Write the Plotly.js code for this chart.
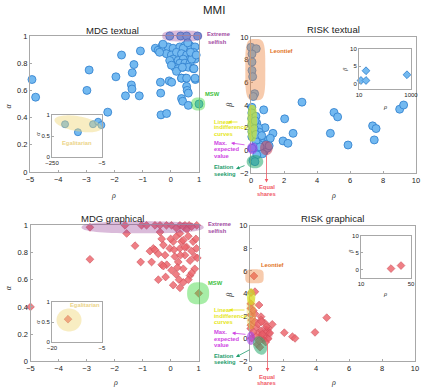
<!DOCTYPE html>
<html><head><meta charset="utf-8">
<script src="https://cdn.plot.ly/plotly-3.0.1.min.js"></script>
<style>html,body{margin:0;padding:0;background:#fff;}#chart{width:424px;height:387px;}</style>
</head><body><div id="chart"></div>
<script>
// ---------------- DATA ----------------
const mdgTextRho = [-4.93,-4.80,-2.90,-2.98,-2.24,-1.95,-1.75,-1.08,-1.31,-1.37,-1.40,-1.38,-1.61,-1.12,-0.37,-0.36,-0.35,-0.15,-0.06,0.03,0.38,0.38,0.42,0.56,0.58,0.62,0.62,0.87,0.52,1.00,
  -0.04,0.35,0.56,0.95,
  -0.55,-0.45,-0.30,-0.25,-0.10,0.08,0.32,0.50,0.68,0.86,0.44,0.80,-0.16,0.02,0.20,0.38,0.56,0.68,0.08,-0.04,0.26,0.44,0.86,0.32,0.50,0.68,0.14,0.02,0.44,0.62,0.80,0.26,0.38,0.56,0.86,-0.28,0.20,0.41,0.74,0.82,-0.40,0.60,0.70,0.90];
const mdgTextAlpha = [0.68,0.55,0.75,0.60,0.44,0.70,0.86,0.89,0.79,0.73,0.64,0.61,0.56,0.56,0.66,0.58,0.42,0.43,0.67,0.66,0.69,0.54,0.52,0.63,0.60,0.58,0.49,0.68,0.69,0.50,
  1,1,1,1,
  0.91,0.895,0.93,0.91,0.92,0.91,0.92,0.93,0.93,0.92,0.91,0.88,0.87,0.86,0.88,0.87,0.86,0.83,0.83,0.82,0.82,0.83,0.83,0.80,0.80,0.80,0.77,0.785,0.77,0.77,0.76,0.76,0.69,0.69,0.69,0.94,0.74,0.77,0.83,0.76,0.88,0.95,0.88,0.86];

const mdgTextEgalRho = [-186,-123,-49,-24,-8];
const mdgTextEgalAlpha = [0.78,0.59,0.78,0.84,0.76];

const riskTextRho = [0.00,0.32,0.06,0.06,0.06,0.10,0.22,0.14,
  0.05,0.05,0.04,0.05,0.05,0.05,
  0.77,0.85,1.33,1.03,1.17,0.30,0.35,0.45,0.50,0.40,0.60,0.70,0.50,0.30,0.60,0.80,0.45,0.25,1.00,0.90,
  0.25,0.20,0.30,0.55,0.70,0.35,1.10,0.65,
  0.06,0.12,0.24,
  2.04,2.55,1.94,2.24,3.09,5.03,5.25,4.81,5.88,7.37,7.58,7.47,9.01,9.25];
const riskTextBeta = [9.09,8.97,8.50,7.80,7.05,6.50,5.00,4.75,
  3.80,3.30,2.80,2.25,1.65,1.20,
  3.57,2.00,1.50,0.90,1.07,3.00,2.40,2.00,1.60,1.20,1.00,0.60,0.50,0.80,0.20,-0.10,0.00,0.30,0.20,0.50,
  2.60,1.90,1.40,0.30,-0.30,-0.40,0.40,1.30,
  0.18,-0.90,-1.00,
  2.78,1.50,0.83,0.62,4.25,3.34,2.95,1.50,0.47,2.16,1.92,0.92,3.63,4.00];

const riskTextInsetRho = [11.9,18.6,18.6,700];
const riskTextInsetBeta = [0.95,0.95,3.75,2.6];

const mdgGraphRho = [-1.04,-0.86,-0.56,-0.38,-0.15,0.03,0.33,0.51,0.66,0.93,-2.88,-1.63,0.45,0.20,0.75,
  -5.00,-2.88,-1.57,-1.27,-1.07,
  -0.32,-0.26,-0.62,-0.74,-0.68,-0.44,-0.32,-0.20,-0.03,0.09,0.15,0.21,0.27,0.33,0.39,0.45,0.51,0.57,0.63,0.69,0.75,0.80,0.86,0.86,0.92,0.19,0.30,0.09,0.45,0.69,0.24,0.03,-0.14,1.00,
  -0.56,-0.38,-0.26,-0.18,0.33,0.75,0.63,0.45,0.33,0.57,0.90,0.95,0.00,0.50,0.35,0.12,-0.44];
const mdgGraphAlpha = [1.0,1.0,1.0,1.0,1.0,1.0,1.0,1.0,1.0,1.0,0.985,1.0,0.99,0.98,0.99,
  0.40,0.75,0.94,0.85,0.73,
  0.90,0.855,0.83,0.81,0.73,0.60,0.71,0.78,0.83,0.88,0.77,0.92,0.73,0.83,0.88,0.68,0.78,0.84,0.92,0.74,0.81,0.88,0.68,0.77,0.83,0.64,0.60,0.56,0.58,0.63,0.69,0.67,0.71,0.50,
  0.82,0.95,0.70,0.62,0.54,0.65,0.60,0.89,0.94,0.97,0.90,0.76,0.90,0.84,0.78,0.82,0.79];

const mdgGraphEgalRho = [-15.2];
const mdgGraphEgalAlpha = [0.57];

const riskGraphRho = [0.24,0.30,0.06,0.55,0.05,0.05,0.06,0.10,0.05,0.04,0.67,0.67,0.91,1.35,1.11,2.08,2.57,2.73,3.94,4.65,
  0.10,0.45,0.60,0.30,0.40,0.50,0.70,0.90,1.00,0.80,0.60,0.35,1.10,0.95,0.20,0.30,0.20,0.50,0.75,1.20,0.55,1.00,0.70];
const riskGraphBeta = [5.55,4.16,4.07,2.98,3.10,2.68,2.10,1.65,1.20,0.90,1.95,1.65,1.36,1.27,0.90,0.53,0.18,0.03,0.56,1.86,
  0.05,-0.50,-0.75,1.50,1.00,0.50,0.70,0.20,0.60,-0.10,0.10,0.20,0.00,-0.30,0.60,2.20,2.50,1.30,0.40,0.50,-0.20,1.06,1.50];

const riskGraphInsetRho = [34,42];
const riskGraphInsetBeta = [0.3,1.2];

// ---------------- LAYOUT HELPERS ----------------
const W = 424, H = 387;
const FONT = 'Liberation Sans, Arial, sans-serif';
const SERIF = 'Liberation Serif, DejaVu Serif, serif';
const dom = (a, b) => [a / W, b / W];
const vdom = (top, bottom) => [1 - bottom / H, 1 - top / H];

const SUB = {
  tl:  {n:'',  xd:dom(30,199),    yd:vdom(36,172),     xr:[-5,1],     yr:[0,1]},
  tr:  {n:'2', xd:dom(251,416),   yd:vdom(37,173),     xr:[0,10],     yr:[-2,10]},
  bl:  {n:'3', xd:dom(30.5,198.7),yd:vdom(225.3,361.3),xr:[-5,1],     yr:[0,1]},
  br:  {n:'4', xd:dom(250,415),   yd:vdom(225.7,361.3),xr:[0,10],     yr:[-2,10]},
  tli: {n:'5', xd:dom(52,102),    yd:vdom(115,157),    xr:[-250,-5],  yr:[0,1]},
  bli: {n:'6', xd:dom(52,102),    yd:vdom(302,342),    xr:[-20,-5],   yr:[0,1]},
  tri: {n:'7', xd:dom(359,411),   yd:vdom(49,89),      xr:[1,3],      yr:[-1.5,10], xlog:true},
  bri: {n:'8', xd:dom(361,411),   yd:vdom(236,278),    xr:[10,50],    yr:[-2.5,10]}
};

const BLUE = {color:'rgb(115,185,240)', line:{color:'rgb(45,125,205)', width:0.8}};
const RED = {color:'rgba(236,105,112,0.85)', line:{color:'rgb(205,80,90)', width:0.6}};

function tr(s, x, y, sym, style, size) {
  return {type:'scatter', mode:'markers', x, y, xaxis:'x'+s.n, yaxis:'y'+s.n, cliponaxis:false,
    hoverinfo:'skip',
    marker:Object.assign({symbol:sym, size:size}, style)};
}

const data = [
  tr(SUB.tl, mdgTextRho, mdgTextAlpha, 'circle', BLUE, 8),
  tr(SUB.tr, riskTextRho, riskTextBeta, 'circle', BLUE, 8),
  tr(SUB.bl, mdgGraphRho, mdgGraphAlpha, 'diamond', RED, 6),
  tr(SUB.br, riskGraphRho, riskGraphBeta, 'diamond', RED, 6),
  tr(SUB.tli, mdgTextEgalRho, mdgTextEgalAlpha, 'circle', BLUE, 7),
  tr(SUB.bli, mdgGraphEgalRho, mdgGraphEgalAlpha, 'diamond', RED, 6),
  tr(SUB.tri, riskTextInsetRho, riskTextInsetBeta, 'diamond', BLUE, 6),
  tr(SUB.bri, riskGraphInsetRho, riskGraphInsetBeta, 'diamond', RED, 6)
];

function axes(s, xopt, yopt, fs) {
  const base = {showgrid:false, zeroline:false, showline:true, mirror:true, linecolor:'#a8a8a8', linewidth:1,
    ticks:'inside', ticklen:2, tickcolor:'#a8a8a8', fixedrange:true,
    tickfont:{family:FONT, size:fs, color:'#222'}};
  const xa = Object.assign({}, base, {domain:s.xd, range:s.xr, anchor:'y'+s.n}, xopt);
  const ya = Object.assign({}, base, {domain:s.yd, range:s.yr, anchor:'x'+s.n}, yopt);
  if (s.xlog) xa.type = 'log';
  return [xa, ya];
}

const layout = {width:W, height:H, margin:{l:0,r:0,t:0,b:0}, paper_bgcolor:'#fff', plot_bgcolor:'rgba(255,255,255,1)',
  showlegend:false, shapes:[], annotations:[]};

function setAxes(s, xopt, yopt, fs) {
  const [xa, ya] = axes(s, xopt, yopt, fs);
  layout['xaxis'+s.n] = xa;
  layout['yaxis'+s.n] = ya;
}
setAxes(SUB.tl, {tickvals:[-5,-4,-3,-2,-1,0,1]}, {tickvals:[0,0.2,0.4,0.6,0.8,1]}, 7.5);
setAxes(SUB.tr, {tickvals:[0,2,4,6,8,10]}, {tickvals:[-2,0,2,4,6,8,10]}, 7.5);
setAxes(SUB.bl, {tickvals:[-5,-4,-3,-2,-1,0,1]}, {tickvals:[0,0.2,0.4,0.6,0.8,1]}, 7.5);
setAxes(SUB.br, {tickvals:[0,2,4,6,8,10]}, {tickvals:[-2,0,2,4,6,8,10]}, 7.5);
setAxes(SUB.tli, {tickvals:[-250,-5], ticktext:['\u2212250','\u22125']}, {tickvals:[0,0.5,1]}, 6);
setAxes(SUB.bli, {tickvals:[-20,-5], ticktext:['\u221220','\u22125']}, {tickvals:[0,0.5,1]}, 6);
setAxes(SUB.tri, {tickvals:[10,1000], ticktext:['10','1000']}, {tickvals:[0,5,10]}, 6);
setAxes(SUB.bri, {tickvals:[10,50]}, {tickvals:[0,5,10]}, 6);

// ---- shapes (blobs) ----
function toPx(s, x, y) {
  const xv = s.xlog ? Math.log10(x) : x;
  const fx = s.xd[0] + (xv - s.xr[0]) / (s.xr[1] - s.xr[0]) * (s.xd[1] - s.xd[0]);
  const fy = s.yd[0] + (y - s.yr[0]) / (s.yr[1] - s.yr[0]) * (s.yd[1] - s.yd[0]);
  return [fx * W, (1 - fy) * H];
}
function blob(s, cx, cy, rx, ry, n, ang, color) {
  const [X, Y] = toPx(s, cx, cy);
  const a = ang * Math.PI / 180;
  let d = '';
  for (let i = 0; i <= 72; i++) {
    const t = i / 72 * 2 * Math.PI, c = Math.cos(t), sn = Math.sin(t);
    const ux = Math.sign(c) * Math.pow(Math.abs(c), 2 / n) * rx;
    const uy = Math.sign(sn) * Math.pow(Math.abs(sn), 2 / n) * ry;
    const px = X + ux * Math.cos(a) - uy * Math.sin(a);
    const py = Y + ux * Math.sin(a) + uy * Math.cos(a);
    d += (i ? 'L' : 'M') + (px / W).toFixed(5) + ',' + (1 - py / H).toFixed(5);
  }
  layout.shapes.push({type:'path', xref:'paper', yref:'paper', path:d + 'Z', fillcolor:color, line:{width:0}, layer:'above'});
}
const C_PURPLE = 'rgba(150,60,150,0.35)';
const C_GREEN = 'rgba(60,215,60,0.45)';
const C_EGAL = 'rgba(240,215,120,0.45)';
const C_LEON = 'rgba(235,130,60,0.42)';
const C_LIN = 'rgba(205,232,30,0.65)';
const C_MAX = 'rgba(165,60,230,0.6)';
const C_EQ = 'rgba(200,60,85,0.55)';
const C_EL = 'rgba(40,170,110,0.55)';

blob(SUB.tl, 0.405, 1.0, 20, 5.5, 3, 0, C_PURPLE);
blob(SUB.tl, 0.97, 0.5, 7, 6.5, 2.5, 0, C_GREEN);
blob(SUB.tli, -122, 0.79, 24, 7.5, 2, 10, C_EGAL);
blob(SUB.bl, -1.0, 0.985, 61, 6, 2.5, 0, C_PURPLE);
blob(SUB.bl, 0.98, 0.5, 11, 11, 2.5, 0, C_GREEN);
blob(SUB.bli, -14.9, 0.55, 12.5, 11.5, 2, 0, C_EGAL);

blob(SUB.tr, 0.26, 7.12, 10, 30.7, 4, 0, C_LEON);
blob(SUB.tr, 0.08, 2.39, 4.8, 18.3, 3, 0, C_LIN);
blob(SUB.tr, 0.08, 0.18, 5.3, 5.7, 2, 0, C_MAX);
blob(SUB.tr, 0.93, 0.2, 6.3, 7.2, 2, 0, C_EQ);
blob(SUB.tr, 0.24, -1.0, 8.3, 6.7, 2, 0, C_EL);

blob(SUB.br, 0.27, 5.52, 9.2, 7, 4, 0, C_LEON);
blob(SUB.br, 0.07, 3.72, 4.2, 8.3, 2, 0, C_LIN);
blob(SUB.br, 0.07, 2.35, 4.5, 17, 3, 0, 'rgba(230,200,30,0.35)');
blob(SUB.br, 0.05, 0.04, 4.2, 6.7, 2, 0, C_MAX);
blob(SUB.br, 0.95, 0.4, 7, 8, 2, 0, 'rgba(220,60,80,0.3)');
blob(SUB.br, 0.61, -0.6, 6.7, 9.5, 2, -20, C_EL);

// ---- annotations ----
function lab(text, X, Y, color, size, anchor, bold, fam) {
  layout.annotations.push({xref:'paper', yref:'paper', x:X / W, y:1 - Y / H,
    text:bold ? '<b>' + text + '</b>' : text, showarrow:false, xanchor:anchor || 'left', yanchor:'middle',
    font:{family:fam || FONT, size:size, color:color}});
}
function rot(text, X, Y, size) {
  layout.annotations.push({xref:'paper', yref:'paper', x:X / W, y:1 - Y / H, text:'<i>' + text + '</i>',
    showarrow:false, xanchor:'center', yanchor:'middle', textangle:-90, font:{family:SERIF, size:size, color:'#333'}});
}
function arrow(hx, hy, tx, ty, color) {
  layout.annotations.push({xref:'paper', yref:'paper', x:hx / W, y:1 - hy / H, ax:tx - hx, ay:ty - hy,
    text:'', showarrow:true, arrowhead:2, arrowsize:0.9, arrowwidth:0.8, arrowcolor:color, standoff:0, startstandoff:0});
}

lab('MMI', 214, 10, '#222', 11.5, 'center');
lab('MDG textual', 112, 30, '#222', 9.5, 'center');
lab('RISK textual', 333, 29.5, '#222', 9.5, 'center');
lab('MDG graphical', 112, 218, '#222', 9.5, 'center');
lab('RISK graphical', 332, 218, '#222', 9.5, 'center');

// axis titles
lab('<i>ρ</i>', 113, 195, '#333', 8, 'center', false, SERIF);
lab('<i>ρ</i>', 333, 195, '#333', 8, 'center', false, SERIF);
lab('<i>ρ</i>', 115, 382.5, '#333', 8, 'center', false, SERIF);
lab('<i>ρ</i>', 333, 382.5, '#333', 8, 'center', false, SERIF);
rot('α', 7.5, 106, 8);
rot('α', 8.3, 288, 8);
rot('β', 228.7, 105, 8);
rot('β', 228.7, 295, 8);
rot('α', 36.7, 134, 6.5);
rot('α', 36.7, 322, 6.5);
rot('β', 345, 70, 6.5);
rot('β', 350, 252, 6.5);
lab('<i>ρ</i>', 385.3, 107, '#333', 6.5, 'center', false, SERIF);
lab('<i>ρ</i>', 385, 293, '#333', 6.5, 'center', false, SERIF);

// group labels (bold)
const PURP = '#a24ca2', GRN = '#3cbf3c', EGAL = '#ecd488', ORG = '#e2731e', YEL = '#e6e61a', MAG = '#cf45e3', TEAL = '#1f9e6e', REDL = '#f05a66';
const LS = 5.8;
function glab(text, X, Y, color, anchor) { lab(text, X, Y, color, LS, anchor || 'left', true); }
glab('Extreme', 204.5, 34.3, PURP); glab('selfish', 205.5, 41.5, PURP);
glab('MSW', 202.5, 94, GRN);
glab('Extreme', 205.5, 223.5, PURP); glab('selfish', 205.5, 230.8, PURP);
glab('MSW', 205.5, 282.7, GRN);
glab('Egalitarian', 77, 143, EGAL, 'center');
glab('Egalitarian', 84.5, 305, EGAL, 'center');

glab('Leontief', 281, 51, ORG, 'center');
glab('Leontief', 272.7, 265, ORG, 'center');

function leftLabels(y0) {
  const L = [
    ['Linear', y0.lin, YEL], ['indifference', y0.lin + 6, YEL], ['curves', y0.lin + 12.5, YEL],
    ['Max.', y0.max, MAG], ['expected', y0.max + 6.5, MAG], ['value', y0.max + 13, MAG],
    ['Elation', y0.el, TEAL], ['seeking', y0.el + 6.3, TEAL]
  ];
  L.forEach(d => glab(d[0], 212.5, d[1], d[2]));
  glab('Equal', 266.5, y0.eq, REDL, 'center');
  glab('shares', 266.5, y0.eq + 6.5, REDL, 'center');
}
leftLabels({lin:121.5, max:142.5, el:167.5, eq:187});
leftLabels({lin:309.5, max:332, el:356, eq:376.5});

arrow(228, 122, 239, 122, YEL);
arrow(231, 143, 246, 145, MAG);
arrow(236, 169, 246, 165, TEAL);
arrow(266.5, 182.5, 266.5, 154, REDL);
arrow(229, 310, 246, 310, YEL);
arrow(232, 333, 247, 334.5, MAG);
arrow(236, 357, 251, 349, TEAL);
arrow(267.5, 371.5, 267.5, 342, REDL);

Plotly.newPlot('chart', data, layout, {staticPlot:true, displayModeBar:false});
</script></body></html>
